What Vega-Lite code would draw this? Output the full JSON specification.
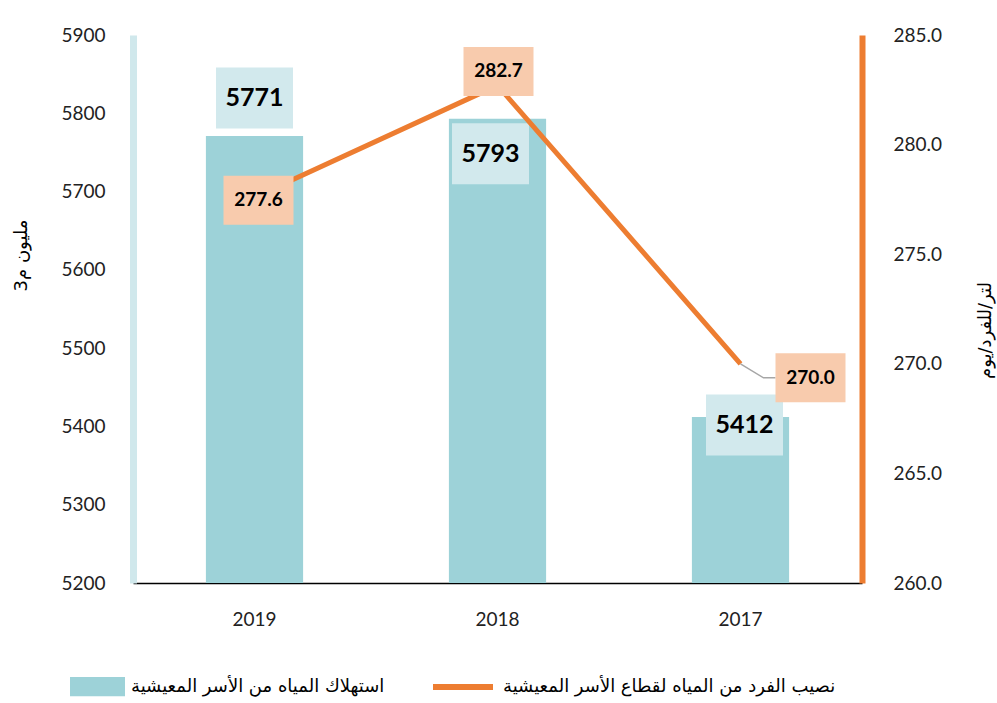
{
  "$schema": "https://vega.github.io/schema/vega-lite/v6.json",
  "width": 729,
  "height": 548,
  "autosize": {"type": "none"},
  "padding": {"left": 133, "top": 35, "right": 135, "bottom": 120},
  "background": "white",
  "config": {"view": {"stroke": null}, "font": "Lato"},
  "data": {"values": [
    {"year": "2019", "consumption": 5771, "perCapita": 277.6},
    {"year": "2018", "consumption": 5793, "perCapita": 282.7},
    {"year": "2017", "consumption": 5412, "perCapita": 270.0}
  ]},
  "encoding": {
    "x": {
      "field": "year", "type": "nominal", "sort": ["2019", "2018", "2017"],
      "scale": {"paddingInner": 0.6, "paddingOuter": 0.3},
      "axis": {"title": null, "labelAngle": 0, "ticks": false, "tickSize": 0, "domainColor": "#000", "domainWidth": 1.5, "labelFont": "Lato", "labelFontSize": 19, "labelColor": "#222", "labelPadding": 27}
    }
  },
  "layer": [
    {
      "encoding": {
        "y": {
          "field": "consumption", "type": "quantitative",
          "scale": {"domain": [5200, 5900], "zero": false, "nice": false},
          "axis": {"orient": "left", "values": [5200, 5300, 5400, 5500, 5600, 5700, 5800, 5900], "format": "d", "grid": false, "ticks": false, "tickSize": 0, "domainColor": "#d0e8ec", "domainWidth": 7, "labelFont": "Lato", "labelFontSize": 19, "labelColor": "#222", "labelPadding": 28, "title": "مليون م3", "titleFont": "DejaVu Sans", "titleFontSize": 18, "titleFontWeight": "normal", "titleColor": "#000", "titleAngle": 270, "titleX": -112, "titleY": 220, "titleAlign": "center", "titleBaseline": "middle"}
        }
      },
      "layer": [
        {
          "mark": {"type": "bar"},
          "encoding": {
            "y2": {"datum": 5200},
            "fill": {"datum": "استهلاك المياه من الأسر المعيشية", "scale": {"range": ["#9dd2d8"]},
              "legend": {"orient": "none", "legendX": -63, "legendY": 624, "title": null, "padding": 0, "symbolType": "M-1,-0.35H1V0.35H-1Z", "symbolSize": 3025, "symbolStrokeWidth": 0, "labelFont": "DejaVu Sans", "labelFontSize": 18, "labelColor": "#000", "labelOffset": 6, "labelLimit": 0}}
          }
        },
        {
          "mark": {"type": "point", "shape": "M-1,-0.79H1V0.79H-1Z", "size": 5929, "filled": true, "fill": "#d2e9ed", "opacity": 1, "strokeWidth": 0,
            "xOffset": {"expr": "datum.year == '2018' ? -7 : datum.year == '2017' ? 4 : 0"},
            "yOffset": {"expr": "datum.year == '2019' ? -38 : datum.year == '2018' ? 35 : 8"}}
        },
        {
          "mark": {"type": "text", "font": "Lato", "fontWeight": "bold", "fontSize": 25, "fill": "#000",
            "dx": {"expr": "datum.year == '2018' ? -7 : datum.year == '2017' ? 4 : 0"},
            "dy": {"expr": "datum.year == '2019' ? -38 : datum.year == '2018' ? 35 : 8"}},
          "encoding": {"text": {"field": "consumption", "type": "quantitative", "format": "d"}}
        }
      ]
    },
    {
      "encoding": {
        "y": {
          "field": "perCapita", "type": "quantitative",
          "scale": {"domain": [260, 285], "zero": false, "nice": false},
          "axis": {"orient": "right", "values": [260, 265, 270, 275, 280, 285], "format": ".1f", "grid": false, "ticks": false, "tickSize": 0, "domainColor": "#ED7D31", "domainWidth": 6, "labelFont": "Lato", "labelFontSize": 19, "labelColor": "#222", "labelPadding": 31, "title": "لتر/للفرد/يوم", "titleFont": "DejaVu Sans", "titleFontSize": 18, "titleFontWeight": "normal", "titleColor": "#000", "titleAngle": 270, "titleX": 123, "titleY": 295, "titleAlign": "center", "titleBaseline": "middle"}
        }
      },
      "layer": [
        {
          "mark": {"type": "line", "strokeWidth": 5},
          "encoding": {
            "stroke": {"datum": "نصيب الفرد من المياه لقطاع الأسر المعيشية", "scale": {"range": ["#ED7D31"]},
              "legend": {"orient": "none", "legendX": 297, "legendY": 619, "title": null, "padding": 0, "symbolType": "stroke", "symbolSize": 3600, "symbolStrokeWidth": 6, "labelFont": "DejaVu Sans", "labelFontSize": 18, "labelColor": "#000", "labelOffset": 7, "labelLimit": 0}}
          }
        },
        {
          "transform": [{"filter": "datum.year == '2017'"}],
          "mark": {"type": "point", "shape": "M0,0L0.657,0.4L1,0.4", "size": 4900, "filled": false, "stroke": "#a6a6a6", "strokeWidth": 1.5, "opacity": 1}
        },
        {
          "mark": {"type": "point", "shape": "M-1,-0.7H1V0.7H-1Z", "size": 4900, "filled": true, "fill": "#f8cbad", "opacity": 1, "strokeWidth": 0,
            "xOffset": {"expr": "datum.year == '2017' ? 70 : datum.year == '2019' ? 4 : 1"},
            "yOffset": {"expr": "datum.year == '2018' ? -14 : datum.year == '2017' ? 14 : 3"}}
        },
        {
          "mark": {"type": "text", "font": "Lato", "fontWeight": "bold", "fontSize": 19, "fill": "#000",
            "dx": {"expr": "datum.year == '2017' ? 70 : datum.year == '2019' ? 4 : 1"},
            "dy": {"expr": "datum.year == '2018' ? -14 : datum.year == '2017' ? 14 : 3"}},
          "encoding": {"text": {"field": "perCapita", "type": "quantitative", "format": ".1f"}}
        }
      ]
    }
  ],
  "resolve": {"scale": {"y": "independent"}}
}
